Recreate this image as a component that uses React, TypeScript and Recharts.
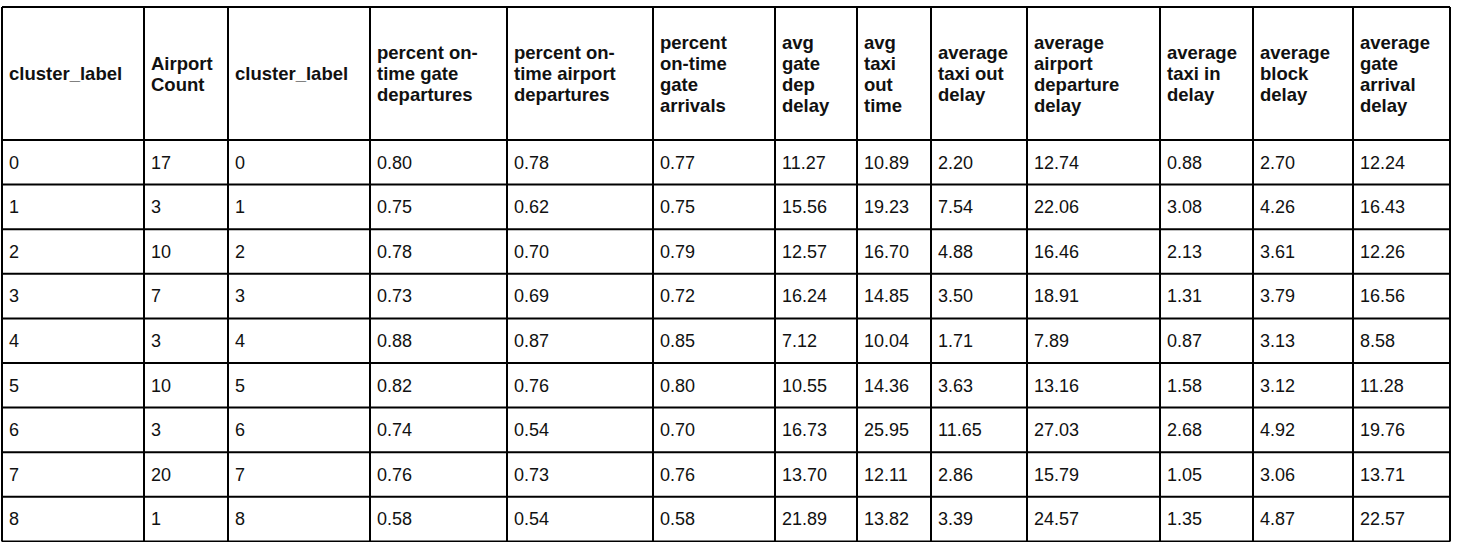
import { Surface, Layer, Text } from "recharts";

const headers: string[][] = [
  ["cluster_label"],
  ["Airport", "Count"],
  ["cluster_label"],
  ["percent on-", "time gate", "departures"],
  ["percent on-", "time airport", "departures"],
  ["percent", "on-time", "gate", "arrivals"],
  ["avg", "gate", "dep", "delay"],
  ["avg", "taxi", "out", "time"],
  ["average", "taxi out", "delay"],
  ["average", "airport", "departure", "delay"],
  ["average", "taxi in", "delay"],
  ["average", "block", "delay"],
  ["average", "gate", "arrival", "delay"],
];

const clusterLabel = ["0", "1", "2", "3", "4", "5", "6", "7", "8"];
const airportCount = ["17", "3", "10", "7", "3", "10", "3", "20", "1"];
const pctOnTimeGateDep = ["0.80", "0.75", "0.78", "0.73", "0.88", "0.82", "0.74", "0.76", "0.58"];
const pctOnTimeAirportDep = ["0.78", "0.62", "0.70", "0.69", "0.87", "0.76", "0.54", "0.73", "0.54"];
const pctOnTimeGateArr = ["0.77", "0.75", "0.79", "0.72", "0.85", "0.80", "0.70", "0.76", "0.58"];
const avgGateDepDelay = ["11.27", "15.56", "12.57", "16.24", "7.12", "10.55", "16.73", "13.70", "21.89"];
const avgTaxiOutTime = ["10.89", "19.23", "16.70", "14.85", "10.04", "14.36", "25.95", "12.11", "13.82"];
const avgTaxiOutDelay = ["2.20", "7.54", "4.88", "3.50", "1.71", "3.63", "11.65", "2.86", "3.39"];
const avgAirportDepDelay = ["12.74", "22.06", "16.46", "18.91", "7.89", "13.16", "27.03", "15.79", "24.57"];
const avgTaxiInDelay = ["0.88", "3.08", "2.13", "1.31", "0.87", "1.58", "2.68", "1.05", "1.35"];
const avgBlockDelay = ["2.70", "4.26", "3.61", "3.79", "3.13", "3.12", "4.92", "3.06", "4.87"];
const avgGateArrDelay = ["12.24", "16.43", "12.26", "16.56", "8.58", "11.28", "19.76", "13.71", "22.57"];

const columns = [
  clusterLabel, airportCount, clusterLabel, pctOnTimeGateDep, pctOnTimeAirportDep,
  pctOnTimeGateArr, avgGateDepDelay, avgTaxiOutTime, avgTaxiOutDelay,
  avgAirportDepDelay, avgTaxiInDelay, avgBlockDelay, avgGateArrDelay,
];

const W = 1460;
const H = 542;
const colEdges = [2, 144, 228, 370, 507, 653, 775, 857, 931, 1027, 1160, 1253, 1353, 1450];
const top = 7;
const headBottom = 140;
const rowH = 44.6;
const font = "'Liberation Sans', Helvetica, Arial, sans-serif";

export default function App() {
  const rowY = (i: number) => headBottom + i * rowH;
  const bottom = rowY(clusterLabel.length);
  return (
    <div style={{ position: "absolute", left: 0, top: 0, width: W, height: H, background: "#fff" }}>
      <Surface width={W} height={H}>
        <Layer>
          {colEdges.map((x, i) => (
            <line key={"v" + i} x1={x} x2={x} y1={top} y2={bottom} stroke="#000" strokeWidth={2} />
          ))}
          {[top, headBottom, ...clusterLabel.map((_, i) => rowY(i + 1))].map((y, i) => (
            <line key={"h" + i} x1={colEdges[0]} x2={colEdges[colEdges.length - 1]} y1={y} y2={y} stroke="#000" strokeWidth={2} />
          ))}
        </Layer>
        <Layer>
          {headers.map((lines, c) => {
            const lh = 21;
            const cy = (top + headBottom) / 2;
            const y0 = cy - ((lines.length - 1) * lh) / 2;
            return lines.map((t, k) => (
              <Text key={`h${c}-${k}`} x={colEdges[c] + 7} y={y0 + k * lh} verticalAnchor="middle"
                style={{ fontFamily: font, fontWeight: "bold", fontSize: 18.5 }} fill="#111">
                {t}
              </Text>
            ));
          })}
        </Layer>
        <Layer>
          {columns.map((col, c) =>
            col.map((v, r) => (
              <Text key={`c${c}-${r}`} x={colEdges[c] + 7} y={rowY(r) + rowH / 2} verticalAnchor="middle"
                style={{ fontFamily: font, fontSize: 18 }} fill="#111">
                {v}
              </Text>
            ))
          )}
        </Layer>
      </Surface>
    </div>
  );
}
